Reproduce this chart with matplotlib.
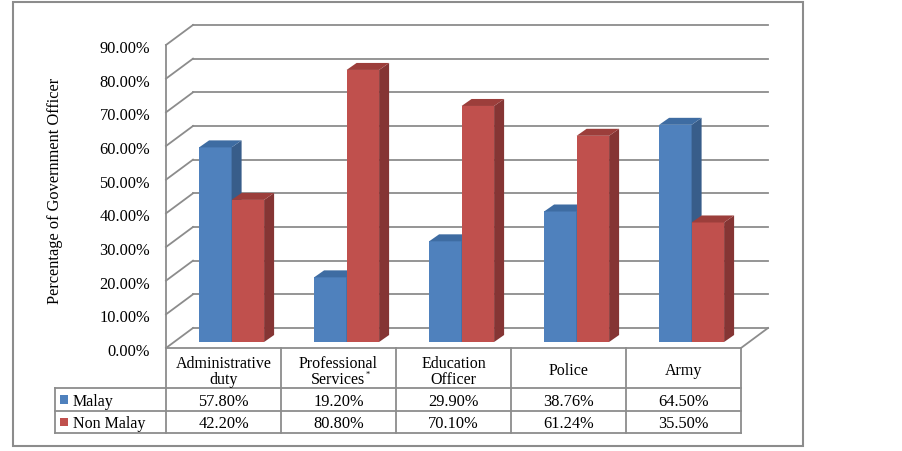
import matplotlib.pyplot as plt
from matplotlib.patches import Rectangle, Polygon
import numpy as np

categories = ['Administrative\nduty', 'Professional\nServices', 'Education\nOfficer', 'Police', 'Army']
malay = [57.80, 19.20, 29.90, 38.76, 64.50]
non_malay = [42.20, 80.80, 70.10, 61.24, 35.50]
malay_labels = ['57.80%', '19.20%', '29.90%', '38.76%', '64.50%']
non_malay_labels = ['42.20%', '80.80%', '70.10%', '61.24%', '35.50%']
yticks = [0, 10, 20, 30, 40, 50, 60, 70, 80, 90]

blue = ('#4F81BD', '#385D8A', '#3E6CA2')
red = ('#C0504D', '#853534', '#9C3E3B')
grid_c = '#8C8C8C'

plt.rcParams['font.family'] = ['Liberation Serif', 'DejaVu Serif']

fig = plt.figure(figsize=(9.02, 4.52), dpi=100)
ax = fig.add_axes([0, 0, 1, 1])
# pixel -> data mapping: one category = 115 px, 10% = 33.67 px
PX = 115.0
PY = 3.367
ax.set_xlim((0 - 166) / PX - 0.5, (902 - 166) / PX - 0.5)
ax.set_ylim((349 - 452) / PY, 349 / PY)
ax.axis('off')

n = len(categories)
DX, DY = 27 / PX, 20 / PY          # floor depth
f1 = 0.3                            # bars start this far back
bdx, bdy = 10 / PX, 7 / PY          # bar depth
bw = 32.5 / PX

# back wall gridlines and left wall
x_left = -0.5
x_right = n - 0.5
for v in yticks:
    ax.plot([x_left + DX, x_right + DX], [v + DY, v + DY], color=grid_c, lw=1.3, zorder=1)
    ax.plot([x_left, x_left + DX], [v, v + DY], color=grid_c, lw=1.3, zorder=1)
    ax.text(x_left - 16 / PX, v - 0.9, '%.2f%%' % v, ha='right', va='center', fontsize=11.8)
ax.plot([x_left, x_left], [0, 90], color=grid_c, lw=1.3, zorder=1)
# floor right edge
ax.plot([x_right, x_right + DX], [0, DY], color=grid_c, lw=1.3, zorder=1)


def bar3d(x0, h, cols):
    ox, oy = f1 * DX, f1 * DY
    x0 = x0 + ox
    x1 = x0 + bw
    ax.add_patch(Rectangle((x0, oy), bw, h, facecolor=cols[0], edgecolor='none', zorder=3))
    ax.add_patch(Polygon([(x1, oy), (x1 + bdx, oy + bdy), (x1 + bdx, oy + h + bdy), (x1, oy + h)],
                         closed=True, facecolor=cols[1], edgecolor='none', zorder=3))
    ax.add_patch(Polygon([(x0, oy + h), (x1, oy + h), (x1 + bdx, oy + h + bdy), (x0 + bdx, oy + h + bdy)],
                         closed=True, facecolor=cols[2], edgecolor='none', zorder=3))


for i in range(n):
    bar3d(i - bw, malay[i], blue)
    bar3d(i, non_malay[i], red)

# data table
tc = '#8C8C8C'
y_rows = [0, (349 - 389) / PY, (349 - 412) / PY, (349 - 434) / PY]
x_lab = (55 - 166) / PX - 0.5
ax.plot([x_left, x_right], [y_rows[0]] * 2, color=tc, lw=1.3, zorder=2)
for yr in y_rows[1:]:
    ax.plot([x_lab, x_right], [yr, yr], color=tc, lw=1.3, zorder=2)
for k in range(n + 1):
    ax.plot([x_left + k, x_left + k], [y_rows[0], y_rows[3]], color=tc, lw=1.3, zorder=2)
ax.plot([x_lab, x_lab], [y_rows[1], y_rows[3]], color=tc, lw=1.3, zorder=2)

star_anchor = None
for i, c in enumerate(categories):
    lines = c.split('\n')
    if len(lines) == 2:
        ax.text(i, (349 - 364) / PY, lines[0], ha='center', va='center', fontsize=11.5)
        t2 = ax.text(i, (349 - 380) / PY, lines[1], ha='center', va='center', fontsize=11.5)
        if lines[1] == 'Services':
            star_anchor = t2
    else:
        ax.text(i, (349 - 371) / PY, c, ha='center', va='center', fontsize=11.5)
    ax.text(i, (y_rows[1] + y_rows[2]) / 2 - 0.5, malay_labels[i], ha='center', va='center', fontsize=11.8)
    ax.text(i, (y_rows[2] + y_rows[3]) / 2 - 0.3, non_malay_labels[i], ha='center', va='center', fontsize=11.8)

# superscript asterisk right after "Services"
fig.canvas.draw()
bb = star_anchor.get_window_extent(fig.canvas.get_renderer())
ax.annotate('*', xy=(bb.x1, bb.y1), xycoords='figure pixels', xytext=(0.3, 0.5), textcoords='offset points',
            ha='left', va='top', fontsize=6)

for yr0, yr1, name, cols in [(y_rows[1], y_rows[2], 'Malay', blue), (y_rows[2], y_rows[3], 'Non Malay', red)]:
    yc = (yr0 + yr1) / 2
    ax.add_patch(Rectangle(((60 - 166) / PX - 0.5, yc - 1.2), 8 / PX, 2.4, facecolor=cols[0],
                           edgecolor='none', zorder=3))
    ax.text((73 - 166) / PX - 0.5, yc - 0.3, name, ha='left', va='center', fontsize=11.5)

ax.text((55 - 166) / PX - 0.5, (349 - 191) / PY, 'Percentage of Government Officer', rotation=90,
        ha='center', va='center', fontsize=11.8)

# outer frame
fig.patches.append(Rectangle((13 / 902, 1 - 447 / 452), 790 / 902, 444 / 452, transform=fig.transFigure,
                             facecolor='none', edgecolor='#8C8C8C', lw=1.5))

fig.savefig('out.png', dpi=100)
